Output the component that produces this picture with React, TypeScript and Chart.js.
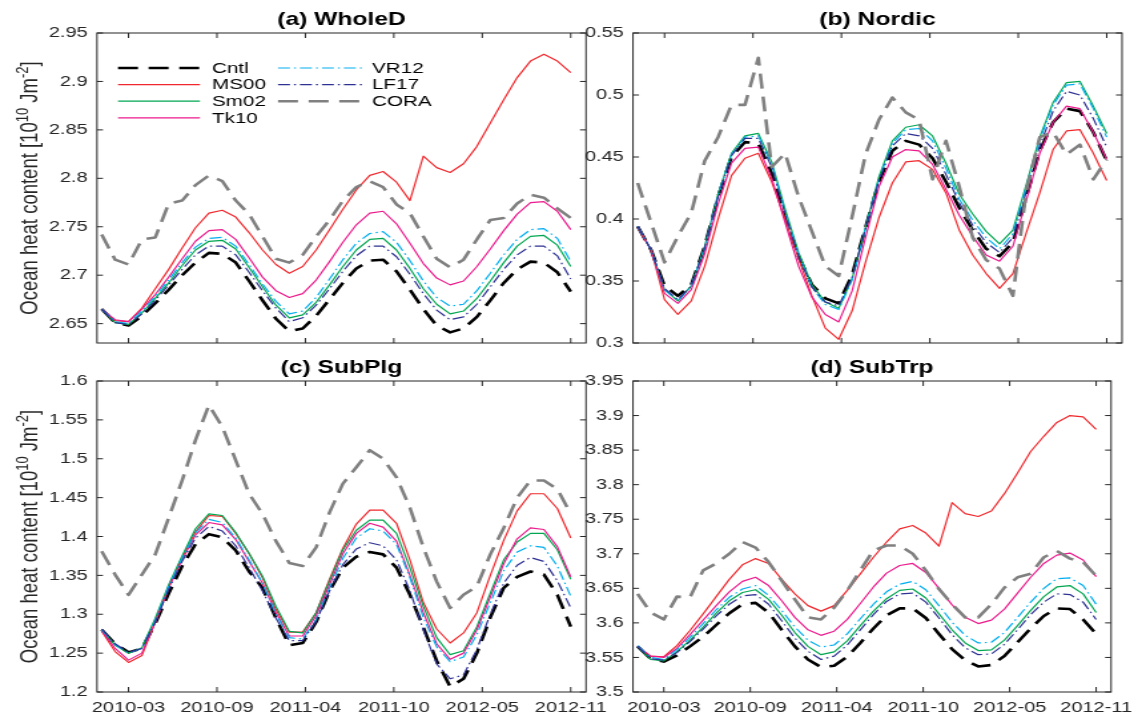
import React, { useEffect, useRef } from 'react';
import { Chart, registerables } from 'chart.js';

Chart.register(...registerables);

// ---------------- DATA ----------------
const MONTHS = [
  '2010-01', '2010-02', '2010-03', '2010-04', '2010-05', '2010-06', '2010-07', '2010-08', '2010-09', '2010-10', '2010-11', '2010-12',
  '2011-01', '2011-02', '2011-03', '2011-04', '2011-05', '2011-06', '2011-07', '2011-08', '2011-09', '2011-10', '2011-11', '2011-12',
  '2012-01', '2012-02', '2012-03', '2012-04', '2012-05', '2012-06', '2012-07', '2012-08', '2012-09', '2012-10', '2012-11', '2012-12',
];
const X_TICK_LABELS = ['2010-03', '2010-09', '2011-04', '2011-10', '2012-05', '2012-11'];
const SERIES = ['Cntl', 'MS00', 'Sm02', 'Tk10', 'VR12', 'LF17', 'CORA'];

// (a) WholeD
const A_CNTL = [2.665, 2.651, 2.648, 2.658, 2.671, 2.685, 2.700, 2.713, 2.723, 2.722, 2.713, 2.694, 2.674, 2.655, 2.642, 2.645, 2.658, 2.675, 2.692, 2.707, 2.715, 2.716, 2.704, 2.685, 2.665, 2.648, 2.641, 2.645, 2.657, 2.674, 2.692, 2.706, 2.714, 2.713, 2.703, 2.683];
const A_MS00 = [2.665, 2.653, 2.652, 2.666, 2.686, 2.706, 2.728, 2.749, 2.764, 2.767, 2.760, 2.744, 2.726, 2.711, 2.702, 2.709, 2.726, 2.747, 2.768, 2.788, 2.803, 2.807, 2.796, 2.777, 2.823, 2.811, 2.806, 2.815, 2.833, 2.857, 2.881, 2.904, 2.921, 2.928, 2.921, 2.909];
const A_SM02 = [2.665, 2.651, 2.649, 2.661, 2.676, 2.692, 2.710, 2.726, 2.735, 2.736, 2.727, 2.708, 2.688, 2.669, 2.656, 2.659, 2.672, 2.690, 2.709, 2.726, 2.737, 2.738, 2.726, 2.707, 2.686, 2.670, 2.660, 2.663, 2.676, 2.694, 2.713, 2.730, 2.740, 2.741, 2.731, 2.709];
const A_TK10 = [2.665, 2.654, 2.652, 2.665, 2.680, 2.698, 2.717, 2.735, 2.746, 2.747, 2.737, 2.718, 2.698, 2.684, 2.677, 2.681, 2.695, 2.714, 2.734, 2.752, 2.764, 2.766, 2.753, 2.733, 2.712, 2.697, 2.690, 2.694, 2.709, 2.727, 2.746, 2.763, 2.775, 2.776, 2.766, 2.747];
const A_VR12 = [2.665, 2.652, 2.650, 2.663, 2.678, 2.695, 2.713, 2.729, 2.738, 2.739, 2.730, 2.711, 2.691, 2.673, 2.660, 2.663, 2.677, 2.696, 2.716, 2.733, 2.743, 2.745, 2.734, 2.715, 2.694, 2.677, 2.668, 2.670, 2.684, 2.702, 2.721, 2.737, 2.747, 2.748, 2.738, 2.714];
const A_LF17 = [2.665, 2.651, 2.649, 2.660, 2.674, 2.690, 2.706, 2.721, 2.730, 2.730, 2.721, 2.703, 2.684, 2.666, 2.652, 2.656, 2.669, 2.686, 2.704, 2.720, 2.730, 2.730, 2.719, 2.701, 2.681, 2.664, 2.654, 2.657, 2.670, 2.688, 2.706, 2.721, 2.730, 2.730, 2.720, 2.696];
const A_CORA = [2.742, 2.716, 2.711, 2.737, 2.739, 2.774, 2.777, 2.793, 2.803, 2.797, 2.777, 2.763, 2.740, 2.717, 2.713, 2.721, 2.740, 2.757, 2.777, 2.791, 2.797, 2.791, 2.773, 2.764, 2.740, 2.717, 2.708, 2.716, 2.737, 2.757, 2.759, 2.774, 2.783, 2.780, 2.769, 2.759];

// (b) Nordic
const B_CNTL = [0.394, 0.375, 0.346, 0.338, 0.347, 0.378, 0.418, 0.450, 0.462, 0.461, 0.437, 0.402, 0.370, 0.347, 0.336, 0.332, 0.355, 0.393, 0.430, 0.455, 0.463, 0.460, 0.449, 0.430, 0.409, 0.391, 0.376, 0.370, 0.381, 0.418, 0.455, 0.478, 0.489, 0.487, 0.470, 0.447];
const B_MS00 = [0.393, 0.375, 0.335, 0.323, 0.334, 0.362, 0.400, 0.435, 0.449, 0.453, 0.430, 0.400, 0.368, 0.338, 0.312, 0.303, 0.326, 0.365, 0.401, 0.429, 0.446, 0.447, 0.440, 0.421, 0.391, 0.371, 0.356, 0.344, 0.356, 0.389, 0.421, 0.456, 0.471, 0.472, 0.453, 0.431];
const B_SM02 = [0.394, 0.375, 0.343, 0.334, 0.346, 0.378, 0.420, 0.453, 0.467, 0.469, 0.446, 0.408, 0.373, 0.347, 0.333, 0.328, 0.352, 0.393, 0.434, 0.463, 0.474, 0.476, 0.467, 0.445, 0.420, 0.404, 0.390, 0.380, 0.391, 0.428, 0.466, 0.494, 0.510, 0.511, 0.491, 0.469];
const B_TK10 = [0.394, 0.375, 0.340, 0.332, 0.343, 0.372, 0.412, 0.445, 0.457, 0.458, 0.433, 0.397, 0.362, 0.337, 0.323, 0.317, 0.342, 0.385, 0.426, 0.450, 0.456, 0.455, 0.444, 0.424, 0.403, 0.386, 0.371, 0.366, 0.378, 0.415, 0.453, 0.478, 0.491, 0.489, 0.470, 0.448];
const B_VR12 = [0.394, 0.375, 0.343, 0.334, 0.346, 0.377, 0.419, 0.452, 0.466, 0.467, 0.444, 0.406, 0.371, 0.345, 0.331, 0.327, 0.351, 0.392, 0.432, 0.461, 0.472, 0.473, 0.463, 0.441, 0.416, 0.399, 0.385, 0.376, 0.388, 0.426, 0.464, 0.492, 0.508, 0.509, 0.489, 0.466];
const B_LF17 = [0.394, 0.375, 0.344, 0.335, 0.346, 0.377, 0.418, 0.451, 0.465, 0.465, 0.442, 0.404, 0.370, 0.345, 0.333, 0.330, 0.353, 0.392, 0.431, 0.459, 0.469, 0.467, 0.457, 0.436, 0.413, 0.395, 0.381, 0.373, 0.385, 0.422, 0.459, 0.487, 0.503, 0.500, 0.481, 0.458];
const B_CORA = [0.429, 0.397, 0.365, 0.386, 0.405, 0.447, 0.466, 0.492, 0.492, 0.530, 0.442, 0.453, 0.418, 0.390, 0.362, 0.354, 0.402, 0.452, 0.480, 0.498, 0.486, 0.480, 0.432, 0.463, 0.426, 0.385, 0.367, 0.360, 0.338, 0.423, 0.466, 0.470, 0.452, 0.460, 0.432, 0.448];

// (c) SubPlg
const C_CNTL = [1.280, 1.262, 1.251, 1.256, 1.288, 1.327, 1.362, 1.390, 1.403, 1.399, 1.382, 1.355, 1.334, 1.295, 1.260, 1.263, 1.290, 1.330, 1.360, 1.374, 1.380, 1.377, 1.360, 1.325, 1.283, 1.240, 1.207, 1.217, 1.250, 1.296, 1.334, 1.348, 1.355, 1.351, 1.325, 1.284];
const C_MS00 = [1.278, 1.252, 1.238, 1.247, 1.290, 1.335, 1.373, 1.406, 1.427, 1.426, 1.404, 1.378, 1.347, 1.306, 1.277, 1.277, 1.302, 1.345, 1.385, 1.416, 1.434, 1.434, 1.417, 1.370, 1.315, 1.281, 1.263, 1.276, 1.302, 1.350, 1.395, 1.433, 1.455, 1.455, 1.436, 1.398];
const C_SM02 = [1.280, 1.260, 1.250, 1.257, 1.295, 1.338, 1.375, 1.410, 1.429, 1.427, 1.405, 1.378, 1.349, 1.310, 1.278, 1.276, 1.302, 1.343, 1.383, 1.408, 1.421, 1.421, 1.404, 1.360, 1.310, 1.270, 1.248, 1.253, 1.284, 1.327, 1.370, 1.393, 1.404, 1.404, 1.383, 1.345];
const C_TK10 = [1.279, 1.256, 1.241, 1.250, 1.290, 1.334, 1.370, 1.402, 1.418, 1.415, 1.396, 1.368, 1.340, 1.302, 1.272, 1.272, 1.298, 1.338, 1.378, 1.404, 1.417, 1.412, 1.394, 1.350, 1.302, 1.262, 1.242, 1.250, 1.280, 1.322, 1.365, 1.397, 1.411, 1.409, 1.387, 1.348];
const C_VR12 = [1.280, 1.261, 1.250, 1.256, 1.292, 1.336, 1.372, 1.405, 1.422, 1.418, 1.398, 1.370, 1.340, 1.300, 1.270, 1.268, 1.293, 1.334, 1.372, 1.398, 1.410, 1.407, 1.390, 1.347, 1.296, 1.258, 1.239, 1.245, 1.274, 1.315, 1.356, 1.380, 1.388, 1.386, 1.362, 1.323];
const C_LF17 = [1.281, 1.262, 1.251, 1.256, 1.290, 1.332, 1.368, 1.398, 1.413, 1.407, 1.388, 1.360, 1.330, 1.295, 1.266, 1.266, 1.291, 1.330, 1.364, 1.384, 1.392, 1.388, 1.370, 1.330, 1.280, 1.236, 1.217, 1.222, 1.255, 1.300, 1.340, 1.363, 1.373, 1.368, 1.343, 1.308];
const C_CORA = [1.381, 1.351, 1.325, 1.351, 1.377, 1.424, 1.472, 1.524, 1.569, 1.541, 1.498, 1.455, 1.429, 1.394, 1.366, 1.362, 1.386, 1.431, 1.468, 1.489, 1.511, 1.500, 1.476, 1.437, 1.386, 1.342, 1.308, 1.325, 1.336, 1.377, 1.411, 1.450, 1.472, 1.472, 1.461, 1.429];

// (d) SubTrp
const D_CNTL = [3.566, 3.548, 3.544, 3.553, 3.566, 3.580, 3.597, 3.614, 3.627, 3.629, 3.615, 3.590, 3.566, 3.547, 3.536, 3.538, 3.551, 3.571, 3.592, 3.611, 3.621, 3.621, 3.607, 3.584, 3.562, 3.546, 3.537, 3.539, 3.552, 3.572, 3.592, 3.610, 3.621, 3.620, 3.605, 3.584];
const D_MS00 = [3.566, 3.552, 3.551, 3.567, 3.589, 3.613, 3.638, 3.663, 3.684, 3.693, 3.686, 3.663, 3.642, 3.625, 3.617, 3.625, 3.647, 3.671, 3.695, 3.717, 3.736, 3.741, 3.730, 3.711, 3.774, 3.758, 3.754, 3.762, 3.787, 3.817, 3.848, 3.870, 3.890, 3.900, 3.898, 3.880];
const D_SM02 = [3.566, 3.547, 3.545, 3.558, 3.575, 3.594, 3.614, 3.632, 3.644, 3.648, 3.634, 3.611, 3.586, 3.566, 3.554, 3.558, 3.574, 3.596, 3.617, 3.635, 3.647, 3.649, 3.636, 3.613, 3.590, 3.571, 3.560, 3.561, 3.575, 3.596, 3.618, 3.638, 3.652, 3.654, 3.642, 3.615];
const D_TK10 = [3.566, 3.552, 3.550, 3.563, 3.583, 3.604, 3.625, 3.645, 3.660, 3.666, 3.654, 3.632, 3.608, 3.590, 3.582, 3.588, 3.605, 3.628, 3.652, 3.672, 3.683, 3.686, 3.673, 3.650, 3.626, 3.608, 3.599, 3.604, 3.620, 3.643, 3.666, 3.686, 3.698, 3.701, 3.691, 3.667];
const D_VR12 = [3.567, 3.550, 3.547, 3.561, 3.579, 3.599, 3.619, 3.637, 3.649, 3.654, 3.640, 3.618, 3.594, 3.575, 3.565, 3.568, 3.584, 3.606, 3.627, 3.645, 3.656, 3.660, 3.648, 3.625, 3.601, 3.582, 3.571, 3.572, 3.586, 3.608, 3.630, 3.650, 3.664, 3.665, 3.654, 3.627];
const D_LF17 = [3.566, 3.548, 3.546, 3.557, 3.573, 3.591, 3.610, 3.627, 3.639, 3.641, 3.627, 3.603, 3.578, 3.559, 3.547, 3.552, 3.568, 3.590, 3.612, 3.631, 3.642, 3.643, 3.630, 3.607, 3.583, 3.564, 3.554, 3.555, 3.569, 3.590, 3.612, 3.630, 3.642, 3.641, 3.630, 3.605];
const D_CORA = [3.642, 3.615, 3.605, 3.638, 3.637, 3.676, 3.686, 3.700, 3.717, 3.709, 3.688, 3.661, 3.634, 3.608, 3.605, 3.622, 3.647, 3.676, 3.705, 3.712, 3.712, 3.700, 3.676, 3.649, 3.627, 3.608, 3.608, 3.627, 3.651, 3.666, 3.671, 3.695, 3.704, 3.693, 3.688, 3.668];

const A_Y_TICKS = [2.65, 2.7, 2.75, 2.8, 2.85, 2.9, 2.95];
const B_Y_TICKS = [0.3, 0.35, 0.4, 0.45, 0.5, 0.55];
const C_Y_TICKS = [1.2, 1.25, 1.3, 1.35, 1.4, 1.45, 1.5, 1.55, 1.6];
const D_Y_TICKS = [3.5, 3.55, 3.6, 3.65, 3.7, 3.75, 3.8, 3.85, 3.9, 3.95];

const TITLES = ['(a) WholeD', '(b) Nordic', '(c) SubPlg', '(d) SubTrp'];
const Y_LABEL_PARTS = [
  { text: 'Ocean heat content [10', sup: false },
  { text: '10', sup: true },
  { text: ' Jm', sup: false },
  { text: '-2', sup: true },
  { text: ']', sup: false },
];

// ---------------- STYLE / LAYOUT ----------------
const PAGE_W = 1142;
const PAGE_H = 715;
const INT_W = 858; // canvas drawn narrower, stretched horizontally like the source figure
const SX = PAGE_W / INT_W;
const FONT = '"Liberation Sans", Arial, Helvetica, sans-serif';
const AXIS_COLOR = '#262626';
const TICK_FONT = 15;
const LEGEND_FONT = 15.5;
const TITLE_FONT = 18.5;
const YW = 50;
const XH = 20;
const X_MIN = -0.35;
const X_MAX = 36.14;

const STYLE: Record<string, { color: string; width: number; dash: number[] }> = {
  Cntl: { color: '#000000', width: 2.6, dash: [15, 8] },
  MS00: { color: '#f0282d', width: 1.2, dash: [] },
  Sm02: { color: '#00a650', width: 1.2, dash: [] },
  Tk10: { color: '#ec1a8c', width: 1.2, dash: [] },
  VR12: { color: '#00aeef', width: 1.2, dash: [9, 3, 1.5, 3] },
  LF17: { color: '#2e3192', width: 1.2, dash: [9, 3, 1.5, 3] },
  CORA: { color: '#808080', width: 2.6, dash: [15, 8] },
};

const PANELS = [
  { key: 'a', title: TITLES[0], values: [A_CNTL, A_MS00, A_SM02, A_TK10, A_VR12, A_LF17, A_CORA], yMin: 2.63, yMax: 2.95, yTicks: A_Y_TICKS, box: { l: 97, r: 586, t: 33, b: 343 }, showX: false, showYLabel: true, legend: true },
  { key: 'b', title: TITLES[1], values: [B_CNTL, B_MS00, B_SM02, B_TK10, B_VR12, B_LF17, B_CORA], yMin: 0.3, yMax: 0.55, yTicks: B_Y_TICKS, box: { l: 633, r: 1122, t: 33, b: 343 }, showX: false, showYLabel: false, legend: false },
  { key: 'c', title: TITLES[2], values: [C_CNTL, C_MS00, C_SM02, C_TK10, C_VR12, C_LF17, C_CORA], yMin: 1.2, yMax: 1.6, yTicks: C_Y_TICKS, box: { l: 97, r: 586, t: 381, b: 692 }, showX: true, showYLabel: true, legend: false },
  { key: 'd', title: TITLES[3], values: [D_CNTL, D_MS00, D_SM02, D_TK10, D_VR12, D_LF17, D_CORA], yMin: 3.5, yMax: 3.95, yTicks: D_Y_TICKS, box: { l: 633, r: 1122, t: 381, b: 692 }, showX: true, showYLabel: false, legend: false },
];

const X_TICK_POS = (() => {
  const first = MONTHS.indexOf('2010-03');
  const last = MONTHS.length - 1;
  const n = X_TICK_LABELS.length;
  return X_TICK_LABELS.map((_, i) => first + ((last - first) * i) / (n - 1));
})();

const fmt = (v: number) => String(parseFloat(v.toFixed(3)));

function makeDecor(p: any) {
  return {
    id: 'decor_' + p.key,
    beforeDatasetsDraw(chart: any) {
      const ctx = chart.ctx;
      const { left, right, top, bottom } = chart.chartArea;
      const xs = chart.scales.x;
      const ys = chart.scales.y;
      ctx.save();
      ctx.strokeStyle = AXIS_COLOR;
      ctx.lineWidth = 1;
      ctx.setLineDash([]);
      ctx.strokeRect(left, top, right - left, bottom - top);
      ctx.beginPath();
      xs.ticks.forEach((t: any) => {
        const x = xs.getPixelForValue(t.value);
        ctx.moveTo(x, bottom);
        ctx.lineTo(x, bottom - 5);
        ctx.moveTo(x, top);
        ctx.lineTo(x, top + 5);
      });
      ys.ticks.forEach((t: any) => {
        const y = ys.getPixelForValue(t.value);
        ctx.moveTo(left, y);
        ctx.lineTo(left + 4.5, y);
        ctx.moveTo(right, y);
        ctx.lineTo(right - 4.5, y);
      });
      ctx.stroke();
      ctx.restore();
    },
    afterDatasetsDraw(chart: any) {
      const ctx = chart.ctx;
      const { left, right, top, bottom } = chart.chartArea;
      ctx.save();
      // title
      ctx.fillStyle = '#000000';
      ctx.font = `bold ${TITLE_FONT}px ${FONT}`;
      ctx.textAlign = 'center';
      ctx.textBaseline = 'middle';
      ctx.fillText(p.title, (left + right) / 2, top - 13);
      // y label
      if (p.showYLabel) {
        const main = 18.5;
        const sup = 13;
        const parts = Y_LABEL_PARTS.map((s) => {
          ctx.font = `${s.sup ? sup : main}px ${FONT}`;
          return { ...s, w: ctx.measureText(s.text).width };
        });
        const total = parts.reduce((a, s) => a + s.w, 0);
        ctx.translate(37.5 / SX, (top + bottom) / 2);
        ctx.rotate(-Math.PI / 2);
        ctx.fillStyle = AXIS_COLOR;
        ctx.textAlign = 'left';
        ctx.textBaseline = 'alphabetic';
        let x = -total / 2;
        parts.forEach((s) => {
          ctx.font = `${s.sup ? sup : main}px ${FONT}`;
          ctx.fillText(s.text, x, s.sup ? -7.5 : 0);
          x += s.w;
        });
        ctx.setTransform(1, 0, 0, 1, 0, 0);
      }
      // legend
      if (p.legend) {
        const cols = [SERIES.slice(0, 4), SERIES.slice(4)];
        const colX = [
          { x1: 21, x2: 103, tx: 115 },
          { x1: 181, x2: 266, tx: 275 },
        ];
        cols.forEach((names, ci) => {
          names.forEach((name, ri) => {
            const st = STYLE[name];
            const y = top + 35 + ri * 16.6;
            ctx.strokeStyle = st.color;
            ctx.lineWidth = st.width;
            ctx.setLineDash(st.dash);
            ctx.beginPath();
            ctx.moveTo(left + colX[ci].x1 / SX, y);
            ctx.lineTo(left + colX[ci].x2 / SX, y);
            ctx.stroke();
            ctx.setLineDash([]);
            ctx.fillStyle = '#000000';
            ctx.font = `${LEGEND_FONT}px ${FONT}`;
            ctx.textAlign = 'left';
            ctx.textBaseline = 'middle';
            ctx.fillText(name, left + colX[ci].tx / SX, y + 0.5);
          });
        });
      }
      ctx.restore();
    },
  };
}

function buildConfig(p: any): any {
  const L = p.box.l / SX;
  const R = p.box.r / SX;
  const T = p.box.t;
  const B = p.box.b;
  const datasets = SERIES.map((name, i) => {
    const st = STYLE[name];
    return {
      label: name,
      data: p.values[i].map((v: number, k: number) => ({ x: k, y: v })),
      borderColor: st.color,
      backgroundColor: st.color,
      borderWidth: st.width,
      borderDash: st.dash,
      borderJoinStyle: 'round',
      pointRadius: 0,
      pointHoverRadius: 0,
      fill: false,
      tension: 0,
      order: -i,
    };
  });
  return {
    type: 'line',
    data: { datasets },
    plugins: [makeDecor(p)],
    options: {
      responsive: false,
      animation: false,
      devicePixelRatio: 1,
      events: [],
      layout: {
        autoPadding: false,
        padding: { left: L - YW, right: INT_W - R, top: T, bottom: PAGE_H - B - XH },
      },
      plugins: { legend: { display: false }, title: { display: false }, tooltip: { enabled: false } },
      scales: {
        x: {
          type: 'linear',
          min: X_MIN,
          max: X_MAX,
          grid: { display: false, drawTicks: false },
          border: { display: false },
          ticks: {
            display: p.showX,
            autoSkip: false,
            maxRotation: 0,
            minRotation: 0,
            padding: 7,
            color: AXIS_COLOR,
            font: { family: FONT, size: TICK_FONT },
            callback: (_v: any, i: number) => X_TICK_LABELS[i] ?? '',
          },
          afterBuildTicks: (s: any) => {
            s.ticks = X_TICK_POS.map((v) => ({ value: v }));
          },
          afterFit: (s: any) => {
            s.height = XH;
          },
        },
        y: {
          type: 'linear',
          min: p.yMin,
          max: p.yMax,
          grid: { display: false, drawTicks: false },
          border: { display: false },
          ticks: {
            padding: 7,
            color: AXIS_COLOR,
            font: { family: FONT, size: TICK_FONT },
            callback: (v: any) => fmt(Number(v)),
          },
          afterBuildTicks: (s: any) => {
            s.ticks = p.yTicks.map((v: number) => ({ value: v }));
          },
          afterFit: (s: any) => {
            s.width = YW;
          },
        },
      },
    },
  };
}

function Panel({ panel }: { panel: any }) {
  const ref = useRef<HTMLCanvasElement>(null);
  useEffect(() => {
    if (!ref.current) return;
    const chart = new Chart(ref.current, buildConfig(panel));
    return () => chart.destroy();
  }, [panel]);
  return (
    <canvas
      ref={ref}
      width={INT_W}
      height={PAGE_H}
      style={{ position: 'absolute', left: 0, top: 0, width: `${PAGE_W}px`, height: `${PAGE_H}px` }}
    />
  );
}

export default function App() {
  return (
    <div style={{ position: 'fixed', left: 0, top: 0, width: PAGE_W, height: PAGE_H, background: '#ffffff', overflow: 'hidden' }}>
      {PANELS.map((p) => (
        <Panel key={p.key} panel={p} />
      ))}
    </div>
  );
}
